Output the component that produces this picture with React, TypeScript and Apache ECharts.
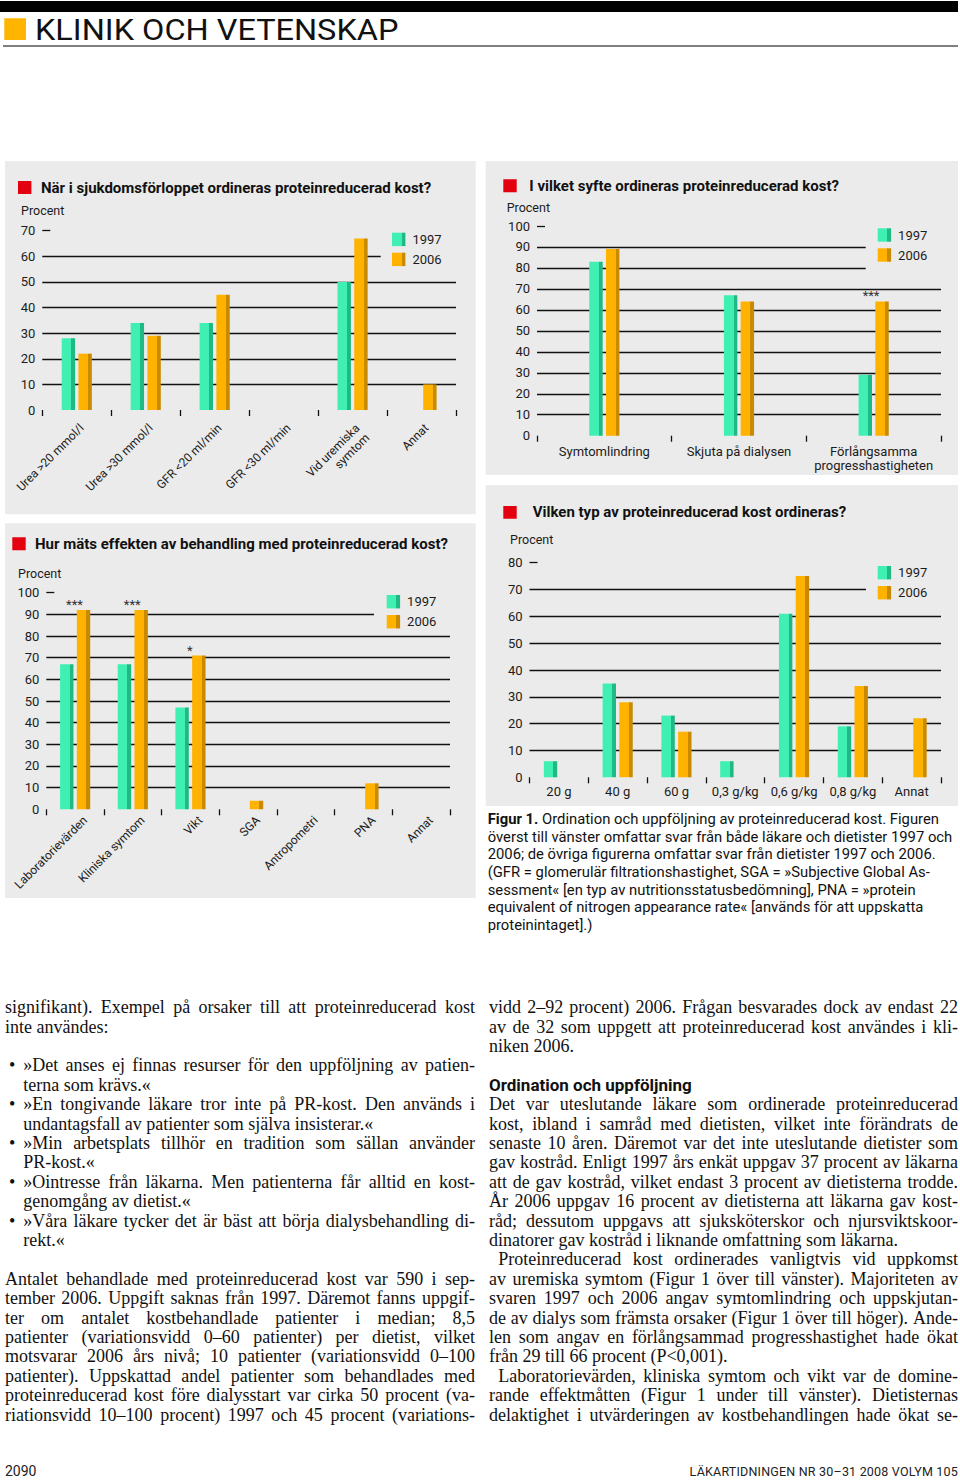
import React, { useEffect, useRef } from "react";
import * as echarts from "echarts";

// ---------- DATA ----------
const yearNames = ["1997", "2006"];
const tickStep = 10;

// Top left: När i sjukdomsförloppet ordineras proteinreducerad kost?
const whenCategories = ["Urea >20 mmol/l", "Urea >30 mmol/l", "GFR <20 ml/min", "GFR <30 ml/min", "Vid uremiska\nsymtom", "Annat"];
const when1997 = [28, 34, 34, null, 50, null];
const when2006 = [22, 29, 45, null, 67, 10];
const whenMax = 70;

// Top right: I vilket syfte ordineras proteinreducerad kost?
const whyCategories = ["Symtomlindring", "Skjuta på dialysen", "Förlångsamma\nprogresshastigheten"];
const why1997 = [83, 67, 29];
const why2006 = [89, 64, 64];
const whySignificance = ["", "", "***"];
const whyMax = 100;

// Bottom left: Hur mäts effekten av behandling med proteinreducerad kost?
const measureCategories = ["Laboratorievärden", "Kliniska symtom", "Vikt", "SGA", "Antropometri", "PNA", "Annat"];
const measure1997 = [67, 67, 47, null, null, null, null];
const measure2006 = [92, 92, 71, 4, null, 12, null];
const measureSignificance = ["***", "***", "*", "", "", "", ""];
const measureMax = 100;

// Bottom right: Vilken typ av proteinreducerad kost ordineras?
const typeCategories = ["20 g", "40 g", "60 g", "0,3 g/kg", "0,6 g/kg", "0,8 g/kg", "Annat"];
const type1997 = [6, 35, 23, 6, 61, 19, null];
const type2006 = [null, 28, 17, null, 75, 34, 22];
const typeMax = 80;

const panelTitles = [
  "När i sjukdomsförloppet ordineras proteinreducerad kost?",
  "I vilket syfte ordineras proteinreducerad kost?",
  "Hur mäts effekten av behandling med proteinreducerad kost?",
  "Vilken typ av proteinreducerad kost ordineras?",
];

// ---------- PAGE TEXT ----------
const captionLines = [
  "Ordination och uppföljning av proteinreducerad kost. Figuren",
  "överst till vänster omfattar svar från både läkare och dietister 1997 och",
  "2006; de övriga figurerna omfattar svar från dietister 1997 och 2006.",
  "(GFR = glomerulär filtrationshastighet, SGA = »Subjective Global As-",
  "sessment« [en typ av nutritionsstatusbedömning], PNA = »protein",
  "equivalent of nitrogen appearance rate« [används för att uppskatta",
  "proteinintaget].)",
];

type Line = { t: string; j?: boolean; b?: boolean; i?: boolean; p?: boolean; h?: boolean };

const leftLines: Line[] = [
  { t: "signifikant). Exempel på orsaker till att proteinreducerad kost", j: true },
  { t: "inte användes:" },
  { t: "" },
  { t: "»Det anses ej finnas resurser för den uppföljning av patien-", j: true, b: true },
  { t: "terna som krävs.«", i: true },
  { t: "»En tongivande läkare tror inte på PR-kost. Den används i", j: true, b: true },
  { t: "undantagsfall av patienter som själva insisterar.«", i: true },
  { t: "»Min arbetsplats tillhör en tradition som sällan använder", j: true, b: true },
  { t: "PR-kost.«", i: true },
  { t: "»Ointresse från läkarna. Men patienterna får alltid en kost-", j: true, b: true },
  { t: "genomgång av dietist.«", i: true },
  { t: "»Våra läkare tycker det är bäst att börja dialysbehandling di-", j: true, b: true },
  { t: "rekt.«", i: true },
  { t: "" },
  { t: "Antalet behandlade med proteinreducerad kost var 590 i sep-", j: true },
  { t: "tember 2006. Uppgift saknas från 1997. Däremot fanns uppgif-", j: true },
  { t: "ter om antalet kostbehandlade patienter i median; 8,5", j: true },
  { t: "patienter (variationsvidd 0–60 patienter) per dietist, vilket", j: true },
  { t: "motsvarar 2006 års nivå; 10 patienter (variationsvidd 0–100", j: true },
  { t: "patienter). Uppskattad andel patienter som behandlades med", j: true },
  { t: "proteinreducerad kost före dialysstart var cirka 50 procent (va-", j: true },
  { t: "riationsvidd 10–100 procent) 1997 och 45 procent (variations-", j: true },
];

const rightLines: Line[] = [
  { t: "vidd 2–92 procent) 2006. Frågan besvarades dock av endast 22", j: true },
  { t: "av de 32 som uppgett att proteinreducerad kost användes i kli-", j: true },
  { t: "niken 2006." },
  { t: "" },
  { t: "Ordination och uppföljning", h: true },
  { t: "Det var uteslutande läkare som ordinerade proteinreducerad", j: true },
  { t: "kost, ibland i samråd med dietisten, vilket inte förändrats de", j: true },
  { t: "senaste 10 åren. Däremot var det inte uteslutande dietister som", j: true },
  { t: "gav kostråd. Enligt 1997 års enkät uppgav 37 procent av läkarna", j: true },
  { t: "att de gav kostråd, vilket endast 3 procent av dietisterna trodde.", j: true },
  { t: "År 2006 uppgav 16 procent av dietisterna att läkarna gav kost-", j: true },
  { t: "råd; dessutom uppgavs att sjuksköterskor och njursviktskoor-", j: true },
  { t: "dinatorer gav kostråd i liknande omfattning som läkarna." },
  { t: "Proteinreducerad kost ordinerades vanligtvis vid uppkomst", j: true, p: true },
  { t: "av uremiska symtom (Figur 1 över till vänster). Majoriteten av", j: true },
  { t: "svaren 1997 och 2006 angav symtomlindring och uppskjutan-", j: true },
  { t: "de av dialys som främsta orsaker (Figur 1 över till höger). Ande-", j: true },
  { t: "len som angav en förlångsammad progresshastighet hade ökat", j: true },
  { t: "från 29 till 66 procent (P<0,001)." },
  { t: "Laboratorievärden, kliniska symtom och vikt var de domine-", j: true, p: true },
  { t: "rande effektmåtten (Figur 1 under till vänster). Dietisternas", j: true },
  { t: "delaktighet i utvärderingen av kostbehandlingen hade ökat se-", j: true },
];

// ---------- STYLE ----------
const FONT = "Roboto, 'Noto Sans', sans-serif";
const SERIF = "'Liberation Serif', 'DejaVu Serif', serif";
const PANEL = "#ebebeb";
const INK = "#1c1c1c";
const RED = "#e3000f";
const GREEN = {
  type: "linear", x: 0, y: 0, x2: 1, y2: 0,
  colorStops: [
    { offset: 0, color: "#3ff0b2" }, { offset: 0.72, color: "#3ff0b2" },
    { offset: 0.72, color: "#1fb985" }, { offset: 1, color: "#1fb985" },
  ],
};
const ORANGE = {
  type: "linear", x: 0, y: 0, x2: 1, y2: 0,
  colorStops: [
    { offset: 0, color: "#ffb200" }, { offset: 0.72, color: "#ffb200" },
    { offset: 0.72, color: "#c98a00" }, { offset: 1, color: "#c98a00" },
  ],
};

const grids = [
  { left: 42.3, top: 230.7, width: 413.7, height: 179.3 },
  { left: 537, top: 226, width: 404, height: 209.7 },
  { left: 46.3, top: 592.7, width: 403.7, height: 216.6 },
  { left: 529.5, top: 562.7, width: 411.5, height: 214.6 },
];

function barPair(k: number, v97: (number | null)[], v06: (number | null)[], sig: string[] | null, sigOffset: number) {
  const mk = (vals: (number | null)[], sigs: string[] | null) =>
    vals.map((v, i) => {
      const item: any = { value: v === null ? "-" : v };
      if (sigs && sigs[i]) {
        item.label = {
          show: true, formatter: sigs[i], position: "top", distance: 0,
          offset: [sigOffset, 1], fontSize: 13, color: "#333", fontFamily: FONT,
        };
      }
      return item;
    });
  return [
    { type: "bar", name: yearNames[0], xAxisIndex: k, yAxisIndex: k, barWidth: 13.4, barGap: "25%", itemStyle: { color: GREEN }, data: mk(v97, null) },
    { type: "bar", name: yearNames[1], xAxisIndex: k, yAxisIndex: k, barWidth: 13.4, barGap: "25%", itemStyle: { color: ORANGE }, data: mk(v06, sig) },
  ];
}

function yAxisFor(k: number, max: number) {
  return {
    type: "value", gridIndex: k, min: 0, max, interval: tickStep, position: "left",
    axisLine: { show: false },
    axisTick: { show: false },
    axisLabel: { margin: 7, fontSize: 13, color: INK, fontFamily: FONT },
    splitLine: { show: true, showMinLine: false, showMaxLine: false, lineStyle: { color: "#111", width: 1.3 } },
  };
}

// second y axis on each grid, only drawing the short dash at the top value
function yTopDashFor(k: number, max: number) {
  return {
    type: "value", gridIndex: k, min: 0, max, interval: tickStep, position: "left",
    axisLine: { show: false },
    axisTick: { show: true, inside: true, length: 8, customValues: [max], lineStyle: { color: "#111", width: 1.3 } },
    axisLabel: { show: false },
    splitLine: { show: false },
  };
}

function xAxisFor(k: number, cats: string[], label: any) {
  return {
    type: "category", gridIndex: k, data: cats,
    axisLine: { show: false },
    axisTick: { show: true, length: 6, lineStyle: { color: "#111", width: 1.3 } },
    axisLabel: { interval: 0, fontSize: 13, color: INK, fontFamily: FONT, lineHeight: 14, ...label },
  };
}

function legendAt(left: number, top: number, padding: number[]) {
  return {
    show: true, data: yearNames, orient: "vertical", left, top, padding,
    itemWidth: 13.4, itemHeight: 13.4, itemGap: 6.6, icon: "rect",
    backgroundColor: PANEL, selectedMode: false,
    textStyle: { fontSize: 13, color: INK, fontFamily: FONT, padding: [0, 0, 0, 2] },
  };
}

function buildOption() {
  const panels = [
    { x: 5, y: 161, w: 470.7, h: 353.3 },
    { x: 485.7, y: 161, w: 472.3, h: 314 },
    { x: 5, y: 523.3, w: 470.7, h: 374.7 },
    { x: 485.7, y: 485, w: 472.3, h: 321 },
  ];
  const reds = [
    { x: 18, y: 181, w: 13.4, h: 13 },
    { x: 503.3, y: 179.3, w: 13.4, h: 13 },
    { x: 12.3, y: 537.3, w: 13.4, h: 13 },
    { x: 503.3, y: 506, w: 13.4, h: 12.7 },
  ];
  const titlePos = [
    { x: 41, y: 187.5 },
    { x: 529.3, y: 186 },
    { x: 35, y: 544 },
    { x: 532.7, y: 512 },
  ];
  const procentPos = [
    { x: 21, y: 210 },
    { x: 506.7, y: 207.7 },
    { x: 18, y: 573.3 },
    { x: 510, y: 539.3 },
  ];

  const graphic: any[] = [
    { type: "rect", z: -20, shape: { x: 0, y: 1, width: 958, height: 11 }, style: { fill: "#000" } },
    { type: "rect", z: -20, shape: { x: 4.3, y: 18.3, width: 21.7, height: 21.7 }, style: { fill: "#ffb400" } },
    {
      type: "text", x: 35, y: 30, scaleX: 1.12, z: 10,
      style: { text: "KLINIK OCH VETENSKAP", fontSize: 29, fontFamily: FONT, fill: "#111", verticalAlign: "middle" },
    },
    { type: "line", z: -20, shape: { x1: 3, y1: 46, x2: 958, y2: 46 }, style: { stroke: "#555", lineWidth: 1.5 } },
  ];
  panels.forEach((p) => graphic.push({ type: "rect", z: -20, shape: { x: p.x, y: p.y, width: p.w, height: p.h }, style: { fill: PANEL } }));
  reds.forEach((r) => graphic.push({ type: "rect", z: 10, shape: { x: r.x, y: r.y, width: r.w, height: r.h }, style: { fill: RED } }));
  titlePos.forEach((t, i) =>
    graphic.push({
      type: "text", x: t.x, y: t.y, z: 10,
      style: { text: panelTitles[i], fontSize: 15, fontWeight: "bold", fontFamily: FONT, fill: "#111", verticalAlign: "middle" },
    })
  );
  procentPos.forEach((t) =>
    graphic.push({
      type: "text", x: t.x, y: t.y, z: 10,
      style: { text: "Procent", fontSize: 12.5, fontFamily: FONT, fill: INK, verticalAlign: "middle" },
    })
  );

  return {
    animation: false,
    grid: grids.map((g) => ({ ...g, containLabel: false, outerBoundsMode: "none" })),
    xAxis: [
      xAxisFor(0, whenCategories, { rotate: 45, margin: 11, align: "right", verticalAlign: "top", fontSize: 12, lineHeight: 14 }),
      xAxisFor(1, whyCategories, { margin: 9 }),
      xAxisFor(2, measureCategories, { rotate: 45, margin: -1, align: "right", verticalAlign: "top", fontSize: 12, lineHeight: 28 }),
      xAxisFor(3, typeCategories, { margin: 7 }),
    ],
    yAxis: [
      yAxisFor(0, whenMax), yAxisFor(1, whyMax), yAxisFor(2, measureMax), yAxisFor(3, typeMax),
      yTopDashFor(0, whenMax), yTopDashFor(1, whyMax), yTopDashFor(2, measureMax), yTopDashFor(3, typeMax),
    ],
    legend: [
      legendAt(380.7, 226.7, [6, 20, 8, 11.3]),
      legendAt(865.7, 222.3, [6, 20, 10, 12]),
      legendAt(374, 589, [6, 20, 5, 12.7]),
      legendAt(866, 560, [6, 20, 8, 11.7]),
    ],
    graphic: { elements: graphic },
    series: [
      ...barPair(0, when1997, when2006, null, 0),
      ...barPair(1, why1997, why2006, whySignificance, -11),
      ...barPair(2, measure1997, measure2006, measureSignificance, -9),
      ...barPair(3, type1997, type2006, null, 0),
    ],
  };
}

function TextLine({ line, bulletIndent, paraIndent }: { line: Line; bulletIndent: number; paraIndent: number }) {
  const base: React.CSSProperties = {
    position: "relative", height: 19.4, lineHeight: "19.4px", whiteSpace: "pre",
    paddingLeft: line.b || line.i ? bulletIndent : line.p ? paraIndent : 0,
  };
  if (line.h) {
    return (
      <div style={{ ...base, fontFamily: FONT, fontWeight: "bold", fontSize: 17 }}>{line.t}</div>
    );
  }
  const bullet = line.b ? (
    <span style={{ position: "absolute", left: 4, top: 0 }}>•</span>
  ) : null;
  if (line.j) {
    const words = line.t.split(" ");
    return (
      <div style={{ ...base, display: "flex", justifyContent: "space-between" }}>
        {bullet}
        {words.map((w, i) => (
          <span key={i}>{w}</span>
        ))}
      </div>
    );
  }
  return (
    <div style={base}>
      {bullet}
      <span>{line.t}</span>
    </div>
  );
}

export default function App() {
  const ref = useRef<HTMLDivElement>(null);
  useEffect(() => {
    if (!ref.current) return;
    const chart = echarts.init(ref.current, undefined, { renderer: "svg" });
    chart.setOption(buildOption() as any);
    return () => chart.dispose();
  }, []);

  const colText: React.CSSProperties = {
    position: "absolute", top: 998.3, fontFamily: SERIF, fontSize: 18, color: "#111",
  };

  return (
    <div style={{ position: "absolute", left: 0, top: 0, width: 960, height: 1483, background: "#fff", overflow: "hidden" }}>
      <div ref={ref} style={{ position: "absolute", left: 0, top: 0, width: 960, height: 945 }} />
      <div
        style={{
          position: "absolute", left: 487.7, top: 811.2, fontFamily: FONT, fontSize: 14.8,
          lineHeight: "17.6px", color: "#111", whiteSpace: "pre",
        }}
      >
        {captionLines.map((l, i) => (
          <div key={i}>
            {i === 0 ? <b>Figur 1. </b> : null}
            {l}
          </div>
        ))}
      </div>
      <div style={{ ...colText, left: 5, width: 470 }}>
        {leftLines.map((l, i) => (
          <TextLine key={i} line={l} bulletIndent={18.3} paraIndent={9.3} />
        ))}
      </div>
      <div style={{ ...colText, left: 489, width: 469 }}>
        {rightLines.map((l, i) => (
          <TextLine key={i} line={l} bulletIndent={18.3} paraIndent={9.3} />
        ))}
      </div>
      <div style={{ position: "absolute", left: 5, top: 1462, fontFamily: FONT, fontSize: 14, color: "#222", lineHeight: "18px" }}>
        2090
      </div>
      <div
        style={{
          position: "absolute", right: 2, top: 1463, fontFamily: FONT, fontSize: 12.5, color: "#222",
          lineHeight: "18px", letterSpacing: 0.2,
        }}
      >
        LÄKARTIDNINGEN NR 30–31 2008 VOLYM 105
      </div>
    </div>
  );
}
